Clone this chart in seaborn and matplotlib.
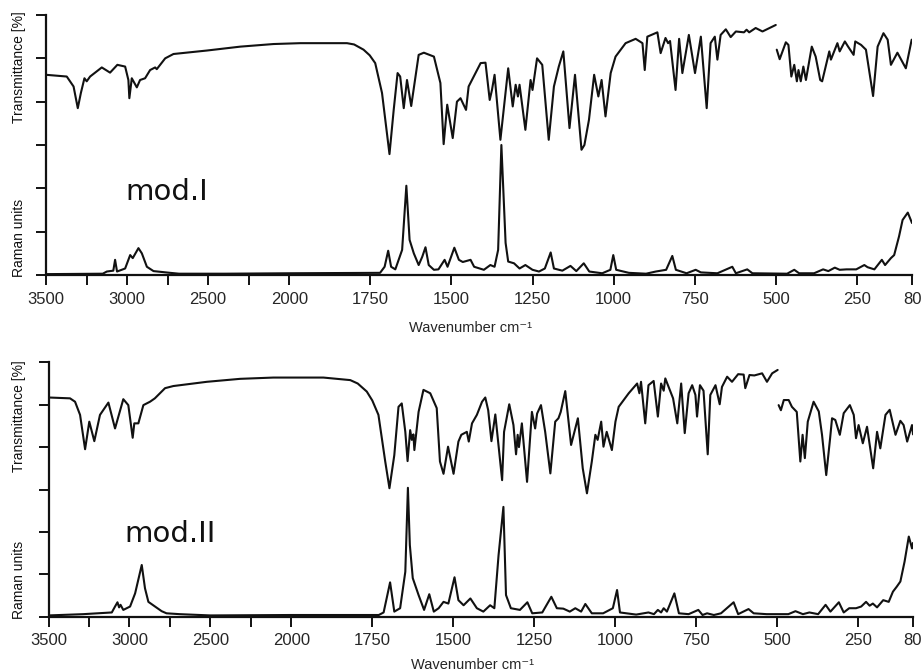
import numpy as np
import pandas as pd
import matplotlib
matplotlib.use("Agg")
import matplotlib.pyplot as plt
from matplotlib.ticker import FixedLocator
import seaborn as sns

# --- values (wavenumber in cm-1, signal in tick units) ---

# mod.I, IR transmittance, 3500 -> 500 and 500 -> 80 (two separate recordings)
ir1_wn_hi = [3500, 3372, 3330, 3304, 3285, 3263, 3249, 3228, 3156, 3105, 3060, 3012, 2992, 2986, 2971,
             2940, 2920, 2889, 2858, 2827, 2817, 2765, 2714, 2508, 2302, 2097, 1966, 1822, 1800, 1771,
             1752, 1735, 1714, 1691, 1678, 1666, 1658, 1647, 1637, 1624, 1601, 1585, 1554, 1534, 1524,
             1513, 1496, 1483, 1472, 1455, 1447, 1410, 1395, 1382, 1375, 1367, 1349, 1325, 1311, 1302,
             1295, 1290, 1272, 1256, 1250, 1236, 1220, 1200, 1184, 1169, 1155, 1136, 1119, 1099, 1090,
             1076, 1060, 1047, 1037, 1025, 1009, 994, 963, 932, 911, 904, 896, 865, 855, 840,
             832, 826, 809, 798, 788, 768, 749, 731, 713, 701, 688, 680, 670, 654, 639,
             623, 598, 590, 582, 562, 541, 500]
ir1_hi = [4.62, 4.58, 4.35, 3.85, 4.20, 4.54, 4.47, 4.58, 4.79, 4.67, 4.85, 4.81, 4.50, 4.08, 4.54,
          4.33, 4.50, 4.54, 4.73, 4.79, 4.75, 5.00, 5.10, 5.18, 5.27, 5.33, 5.35, 5.35, 5.32, 5.20,
          5.07, 4.89, 4.20, 2.79, 3.81, 4.66, 4.58, 3.85, 4.50, 3.90, 5.08, 5.13, 5.04, 4.43, 3.02,
          3.93, 3.16, 4.00, 4.08, 3.81, 4.35, 4.89, 4.90, 4.04, 4.27, 4.62, 3.12, 4.77, 3.89, 4.39,
          4.12, 4.39, 3.35, 4.50, 4.27, 5.00, 4.85, 3.12, 4.35, 4.81, 5.16, 3.39, 4.62, 2.89, 3.00,
          3.58, 4.62, 4.12, 4.50, 3.66, 4.66, 5.04, 5.35, 5.45, 5.35, 4.73, 5.50, 5.60, 5.12, 5.47,
          5.35, 5.40, 4.27, 5.45, 4.66, 5.54, 4.66, 5.50, 3.85, 5.35, 5.50, 4.97, 5.54, 5.67, 5.49,
          5.62, 5.60, 5.66, 5.60, 5.70, 5.62, 5.77]
ir1_wn_lo = [497, 488, 469, 461, 452, 443, 435, 430, 423, 415, 407, 389, 377, 363, 357, 335, 330,
             310, 303, 287, 277, 260, 255, 237, 222, 200, 186, 168, 155, 145, 125, 99, 81]
ir1_lo = [5.20, 4.98, 5.37, 5.31, 4.58, 4.85, 4.47, 4.73, 4.47, 4.81, 4.50, 5.27, 5.04, 4.50, 4.47,
          5.16, 4.97, 5.35, 5.16, 5.39, 5.27, 5.08, 5.39, 5.31, 5.20, 4.13, 5.27, 5.58, 5.43, 4.85,
          5.13, 4.77, 5.43]

# mod.I, Raman
ra1_wn = [3500, 3150, 3125, 3085, 3074, 3062, 3012, 2981, 2965, 2930, 2909, 2878, 2837, 2735, 2680,
          2400, 2000, 1720, 1706, 1695, 1686, 1673, 1652, 1639, 1629, 1616, 1601, 1590, 1580, 1570,
          1554, 1540, 1521, 1512, 1491, 1477, 1465, 1441, 1430, 1400, 1380, 1367, 1356, 1346, 1333,
          1325, 1307, 1290, 1272, 1250, 1230, 1212, 1194, 1184, 1158, 1133, 1115, 1092, 1075, 1035,
          1010, 1001, 992, 953, 900, 870, 838, 819, 808, 775, 747, 731, 680, 634, 623,
          588, 572, 465, 443, 428, 382, 354, 338, 318, 303, 282, 252, 227, 217, 196,
          173, 163, 145, 135, 120, 109, 93, 80]
ra1 = [0.02, 0.03, 0.08, 0.10, 0.35, 0.08, 0.15, 0.46, 0.39, 0.62, 0.50, 0.19, 0.09, 0.05, 0.03,
       0.03, 0.04, 0.05, 0.19, 0.56, 0.19, 0.13, 0.58, 2.06, 0.81, 0.50, 0.23, 0.42, 0.64, 0.23,
       0.12, 0.13, 0.35, 0.19, 0.63, 0.35, 0.30, 0.35, 0.19, 0.12, 0.23, 0.19, 0.58, 3.00, 0.74,
       0.31, 0.27, 0.15, 0.23, 0.12, 0.08, 0.15, 0.52, 0.15, 0.10, 0.21, 0.09, 0.27, 0.08, 0.04,
       0.12, 0.46, 0.12, 0.05, 0.03, 0.08, 0.12, 0.44, 0.12, 0.04, 0.12, 0.06, 0.04, 0.19, 0.04,
       0.13, 0.04, 0.03, 0.12, 0.04, 0.04, 0.13, 0.09, 0.17, 0.12, 0.13, 0.13, 0.23, 0.18, 0.13,
       0.35, 0.23, 0.39, 0.46, 0.89, 1.27, 1.44, 1.20]

# mod.II, IR transmittance
ir2_wn_hi = [3500, 3367, 3336, 3305, 3274, 3248, 3217, 3182, 3130, 3089, 3038, 3007, 2980, 2970, 2945,
             2914, 2873, 2843, 2780, 2729, 2522, 2316, 2111, 1973, 1901, 1818, 1795, 1767, 1750, 1731,
             1710, 1697, 1682, 1669, 1659, 1648, 1641, 1633, 1628, 1623, 1620, 1607, 1592, 1571, 1551,
             1541, 1530, 1516, 1499, 1484, 1475, 1458, 1452, 1442, 1427, 1411, 1401, 1392, 1382, 1370,
             1349, 1343, 1327, 1314, 1306, 1301, 1297, 1288, 1272, 1257, 1247, 1241, 1229, 1216, 1200,
             1185, 1175, 1168, 1154, 1136, 1115, 1100, 1087, 1072, 1061, 1054, 1043, 1036, 1026, 1010,
             999, 989, 958, 932, 925, 920, 907, 897, 881, 868, 858, 850, 845, 821, 808,
             796, 785, 773, 762, 752, 747, 738, 727, 714, 706, 690, 677, 670, 654, 639,
             620, 603, 598, 585, 570, 546, 531, 515, 498]
ir2_hi = [5.17, 5.15, 5.07, 4.76, 3.95, 4.60, 4.14, 4.76, 5.05, 4.44, 5.13, 4.99, 4.22, 4.56, 4.56,
          4.99, 5.07, 5.15, 5.39, 5.44, 5.54, 5.61, 5.64, 5.64, 5.64, 5.58, 5.50, 5.31, 5.10, 4.76,
          3.66, 3.03, 3.81, 4.95, 5.03, 4.36, 3.67, 4.40, 4.17, 4.30, 3.93, 4.83, 5.35, 5.27, 4.92,
          3.66, 3.37, 4.01, 3.37, 4.13, 4.29, 4.36, 4.13, 4.56, 4.76, 5.07, 5.17, 4.87, 4.14, 4.77,
          3.22, 4.36, 5.01, 4.52, 3.83, 4.29, 4.00, 4.56, 3.18, 4.83, 4.44, 4.79, 4.99, 4.36, 3.38,
          4.60, 4.68, 4.83, 5.32, 4.05, 4.68, 3.50, 2.91, 3.66, 4.29, 4.17, 4.60, 4.01, 4.36, 3.93,
          4.60, 4.95, 5.27, 5.50, 5.27, 5.54, 4.56, 5.46, 5.56, 4.72, 5.50, 5.33, 5.62, 5.15, 4.56,
          5.50, 4.33, 5.27, 5.46, 5.23, 4.72, 5.46, 5.33, 3.83, 5.23, 5.46, 5.01, 5.42, 5.66, 5.54,
          5.72, 5.71, 5.39, 5.70, 5.69, 5.74, 5.54, 5.74, 5.82]
ir2_wn_lo = [495, 488, 479, 464, 454, 439, 428, 421, 414, 405, 387, 371, 361, 348, 336, 330, 320,
             306, 294, 275, 263, 256, 248, 235, 222, 203, 191, 181, 165, 152, 134, 119, 109, 98,
             83, 80]
ir2_lo = [4.99, 4.87, 5.11, 5.11, 4.95, 4.83, 3.66, 4.29, 3.74, 4.60, 5.07, 4.84, 4.29, 3.34, 4.21,
          4.68, 4.64, 4.29, 4.80, 4.99, 4.76, 4.21, 4.52, 4.09, 4.48, 3.50, 4.36, 3.97, 4.76, 4.88,
          4.29, 4.62, 4.52, 4.13, 4.52, 4.30]

# mod.II, Raman
ra2_wn = [3500, 3285, 3109, 3089, 3074, 3064, 3055, 3038, 2996, 2965, 2924, 2904, 2883, 2842, 2801,
          2771, 2690, 2500, 2000, 1730, 1715, 1695, 1682, 1664, 1648, 1640, 1634, 1625, 1607, 1590,
          1574, 1560, 1545, 1530, 1515, 1496, 1484, 1468, 1447, 1427, 1407, 1386, 1373, 1360, 1345,
          1337, 1322, 1294, 1271, 1256, 1225, 1197, 1180, 1160, 1140, 1123, 1105, 1092, 1072, 1037,
          1007, 994, 985, 935, 897, 880, 868, 858, 850, 840, 817, 803, 773, 743, 730,
          716, 695, 673, 634, 620, 588, 572, 532, 465, 443, 420, 400, 373, 350, 335,
          309, 294, 277, 256, 240, 225, 214, 204, 191, 172, 155, 142, 130, 119, 106,
          93, 83, 80]
ra2 = [0.03, 0.06, 0.10, 0.24, 0.34, 0.22, 0.28, 0.16, 0.24, 0.55, 1.22, 0.67, 0.35, 0.24, 0.13,
       0.08, 0.06, 0.03, 0.04, 0.04, 0.10, 0.81, 0.12, 0.20, 1.06, 3.04, 1.69, 0.91, 0.51, 0.16,
       0.53, 0.12, 0.20, 0.35, 0.31, 0.93, 0.39, 0.27, 0.43, 0.20, 0.12, 0.27, 0.20, 1.45, 2.59,
       0.51, 0.20, 0.16, 0.34, 0.08, 0.10, 0.47, 0.20, 0.19, 0.12, 0.20, 0.12, 0.30, 0.08, 0.08,
       0.20, 0.63, 0.10, 0.05, 0.10, 0.06, 0.16, 0.10, 0.20, 0.12, 0.55, 0.08, 0.06, 0.16, 0.04,
       0.08, 0.04, 0.08, 0.34, 0.06, 0.18, 0.08, 0.06, 0.06, 0.13, 0.06, 0.10, 0.06, 0.28, 0.12,
       0.34, 0.10, 0.20, 0.20, 0.24, 0.35, 0.26, 0.31, 0.22, 0.39, 0.35, 0.59, 0.71, 0.83, 1.30,
       1.89, 1.61, 1.74]

major_ticks = [3500, 3000, 2500, 2000, 1750, 1500, 1250, 1000, 750, 500, 250, 80]
minor_ticks = [3250, 2750, 2250]
tick_labels = [str(t) for t in major_ticks]

NARROW = ["Liberation Sans Narrow", "Liberation Sans", "DejaVu Sans"]
INK = "#111111"


# FT-IR style axis: 500 cm-1 per division above 2000, 250 cm-1 per division below
def fwd(w):
    w = np.asarray(w, dtype=float)
    return np.where(w >= 2000, w + 2000.0, 2.0 * w)


def inv(u):
    u = np.asarray(u, dtype=float)
    return np.where(u >= 4000, u - 2000.0, u / 2.0)


def build_frame(pieces):
    frames = []
    for i, (wn, val) in enumerate(pieces):
        frames.append(pd.DataFrame({"wavenumber": wn, "signal": val, "trace": i}))
    return pd.concat(frames, ignore_index=True)


def draw_panel(ax, frame, name, name_x, name_y, label_y):
    sns.lineplot(data=frame, x="wavenumber", y="signal", units="trace", estimator=None,
                 sort=False, color=INK, lw=1.5, ax=ax, legend=False)

    ax.set_xscale("function", functions=(fwd, inv))
    ax.set_xlim(3500, 80)
    ax.set_ylim(0, 6)

    ax.xaxis.set_major_locator(FixedLocator(major_ticks))
    ax.set_xticklabels(tick_labels, family=NARROW, fontsize=12)
    ax.xaxis.set_minor_locator(FixedLocator(minor_ticks))
    ax.set_yticks(range(7))
    ax.set_yticklabels([])
    ax.set_ylabel("")

    for side in ("top", "right"):
        ax.spines[side].set_visible(False)
    for side in ("left", "bottom"):
        ax.spines[side].set_linewidth(1.6)
        ax.spines[side].set_color(INK)
    ax.tick_params(axis="both", which="both", direction="out", length=7, width=1.4,
                   color=INK, pad=5, bottom=True, left=True)

    ax.set_xlabel("Wavenumber cm⁻¹", family=NARROW, fontsize=10.5)
    ax.xaxis.set_label_coords(0.49, label_y)

    ax.text(name_x, name_y, name, transform=ax.transAxes, fontsize=21,
            family="DejaVu Sans", color=INK, va="center", ha="left")


sns.set_style("ticks")
plt.rcParams["font.family"] = NARROW

fig = plt.figure(figsize=(9.24, 6.72), dpi=100)
W, H = 924.0, 672.0

ax1 = fig.add_axes([46 / W, 1 - 275 / H, (912 - 46) / W, (275 - 15) / H])
ax2 = fig.add_axes([48.5 / W, 1 - 616.7 / H, (913 - 48.5) / W, (616.7 - 362.3) / H])

panel1 = build_frame([(ir1_wn_hi, ir1_hi), (ir1_wn_lo, ir1_lo), (ra1_wn, ra1)])
panel2 = build_frame([(ir2_wn_hi, ir2_hi), (ir2_wn_lo, ir2_lo), (ra2_wn, ra2)])

draw_panel(ax1, panel1, "mod.I", 0.092, 0.32, -0.175)
draw_panel(ax2, panel2, "mod.II", 0.088, 0.325, -0.162)

# the two y labels of each panel
for y_center, text in [(67, "Transmittance [%]"), (238, "Raman units"),
                       (416, "Transmittance [%]"), (580, "Raman units")]:
    fig.text(19 / W, 1 - y_center / H, text, rotation=90, ha="center", va="center",
             family=NARROW, fontsize=10, color=INK)

fig.savefig("out.png", dpi=100)
